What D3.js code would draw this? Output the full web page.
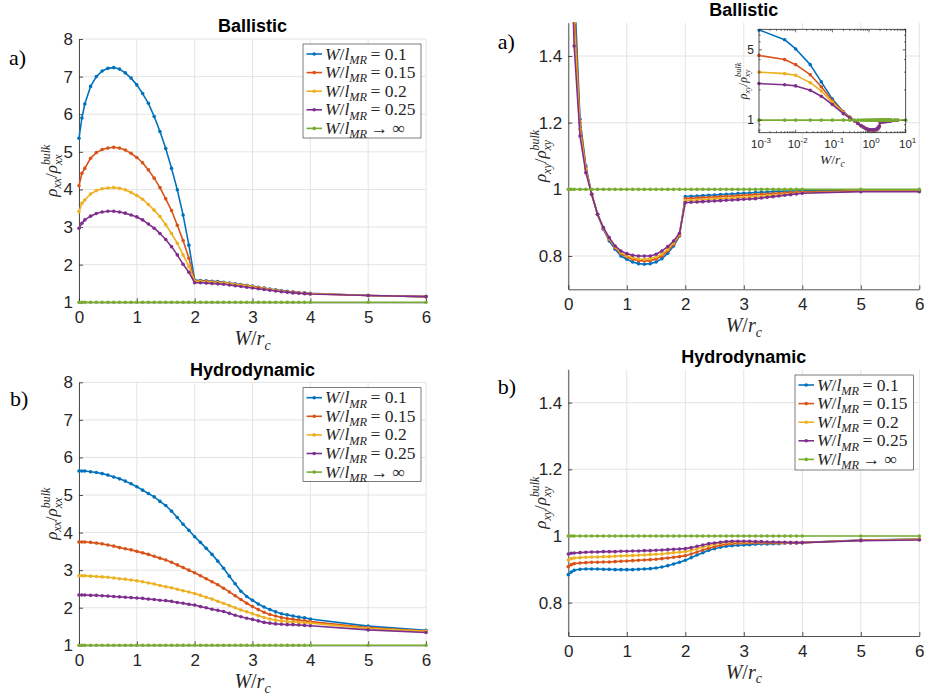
<!DOCTYPE html>
<html>
<head>
<meta charset="utf-8">
<script src="https://cdn.jsdelivr.net/npm/d3@7"></script>
<style>
  body { margin: 0; background: #fff; }
  svg { display: block; }
</style>
</head>
<body>
<svg id="fig" width="925" height="697"></svg>
<script>
// ---- data ----
const W = [0, 0.05, 0.1, 0.2, 0.3, 0.4, 0.5, 0.6, 0.7, 0.8, 0.9,
  1.0, 1.1, 1.2, 1.3, 1.4, 1.5, 1.6, 1.7, 1.8, 1.9,
  2.0, 2.1, 2.2, 2.3, 2.4, 2.5, 2.6, 2.7, 2.8, 2.9,
  3.0, 3.1, 3.2, 3.3, 3.4, 3.5, 3.6, 3.7, 3.8, 3.9,
  4.0, 5, 6];

// W/l_MR -> infinity : constant 1 in every panel
const infLimit = [1, 1, 1, 1, 1, 1, 1, 1, 1, 1, 1,
  1, 1, 1, 1, 1, 1, 1, 1, 1, 1,
  1, 1, 1, 1, 1, 1, 1, 1, 1, 1,
  1, 1, 1, 1, 1, 1, 1, 1, 1, 1,
  1, 1, 1];

// a) ballistic, rho_xx
const bxx01 = [5.36, 5.90, 6.27, 6.74, 7.00, 7.15, 7.22, 7.24, 7.20, 7.10, 6.96,
  6.78, 6.55, 6.29, 5.94, 5.54, 5.09, 4.56, 3.99, 3.32, 2.52,
  1.59, 1.58, 1.57, 1.56, 1.55, 1.53, 1.51, 1.49, 1.47, 1.45,
  1.43, 1.40, 1.38, 1.35, 1.33, 1.31, 1.29, 1.27, 1.26, 1.25,
  1.24, 1.18, 1.15];
const bxx015 = [4.10, 4.43, 4.56, 4.83, 4.98, 5.06, 5.10, 5.12, 5.10, 5.05, 4.96,
  4.85, 4.71, 4.52, 4.30, 4.05, 3.75, 3.44, 3.05, 2.64, 2.17,
  1.57, 1.565, 1.555, 1.545, 1.535, 1.52, 1.50, 1.48, 1.46, 1.44,
  1.42, 1.39, 1.37, 1.34, 1.32, 1.30, 1.28, 1.27, 1.25, 1.24,
  1.23, 1.18, 1.15];
const bxx02 = [3.41, 3.63, 3.72, 3.88, 3.97, 4.02, 4.04, 4.05, 4.03, 3.99, 3.92,
  3.84, 3.74, 3.60, 3.45, 3.28, 3.06, 2.83, 2.57, 2.26, 1.95,
  1.55, 1.55, 1.54, 1.53, 1.52, 1.51, 1.49, 1.47, 1.45, 1.43,
  1.41, 1.38, 1.36, 1.34, 1.32, 1.30, 1.28, 1.26, 1.25, 1.24,
  1.23, 1.18, 1.15];
const bxx025 = [2.97, 3.10, 3.19, 3.29, 3.36, 3.40, 3.42, 3.42, 3.40, 3.37, 3.32,
  3.27, 3.19, 3.08, 2.97, 2.83, 2.67, 2.48, 2.26, 2.01, 1.80,
  1.52, 1.52, 1.51, 1.50, 1.49, 1.48, 1.46, 1.44, 1.42, 1.40,
  1.38, 1.36, 1.34, 1.32, 1.30, 1.28, 1.27, 1.25, 1.24, 1.23,
  1.22, 1.18, 1.15];

// a) ballistic, rho_xy (diverges at W = 0)
const bxy01 = [null, 2.40, 1.62, 1.21, 1.07, 0.985, 0.925, 0.880, 0.845, 0.820, 0.800,
  0.790, 0.782, 0.777, 0.775, 0.777, 0.782, 0.792, 0.808, 0.830, 0.860,
  0.978, 0.979, 0.980, 0.981, 0.982, 0.983, 0.984, 0.985, 0.986, 0.987,
  0.988, 0.989, 0.990, 0.991, 0.992, 0.993, 0.994, 0.994, 0.995, 0.995,
  0.996, 0.997, 0.997];
const bxy015 = [null, 2.15, 1.56, 1.20, 1.065, 0.985, 0.925, 0.882, 0.850, 0.825, 0.807,
  0.797, 0.790, 0.786, 0.785, 0.786, 0.791, 0.800, 0.815, 0.835, 0.862,
  0.972, 0.973, 0.974, 0.975, 0.976, 0.977, 0.978, 0.979, 0.980, 0.981,
  0.982, 0.983, 0.984, 0.985, 0.986, 0.987, 0.988, 0.989, 0.990, 0.991,
  0.992, 0.996, 0.996];
const bxy02 = [null, 1.95, 1.50, 1.18, 1.06, 0.985, 0.925, 0.883, 0.852, 0.827, 0.810,
  0.801, 0.795, 0.791, 0.790, 0.792, 0.797, 0.806, 0.820, 0.840, 0.865,
  0.966, 0.967, 0.968, 0.969, 0.970, 0.971, 0.972, 0.973, 0.974, 0.975,
  0.976, 0.977, 0.978, 0.979, 0.981, 0.982, 0.983, 0.985, 0.986, 0.988,
  0.989, 0.995, 0.995];
const bxy025 = [null, 1.73, 1.43, 1.16, 1.05, 0.985, 0.925, 0.885, 0.855, 0.830, 0.815,
  0.807, 0.802, 0.800, 0.800, 0.800, 0.805, 0.815, 0.828, 0.845, 0.868,
  0.960, 0.961, 0.962, 0.963, 0.964, 0.965, 0.966, 0.967, 0.968, 0.969,
  0.970, 0.971, 0.972, 0.974, 0.976, 0.978, 0.980, 0.982, 0.984, 0.986,
  0.988, 0.993, 0.993];

// inset: small-W part of the ballistic rho_xy curves (log-log)
const insetW = [0.001, 0.005, 0.01, 0.025];
const insetXy01 = [7.9, 6.3, 5.1, 3.56];
const insetXy015 = [4.4, 4.0, 3.56, 2.83];
const insetXy02 = [3.0, 2.9, 2.79, 2.36];
const insetXy025 = [2.31, 2.25, 2.19, 1.98];
const insetXyInf = [1, 1, 1, 1];
const insetTailW = [10];
const insetTailInf = [1];

// b) hydrodynamic, rho_xx
const hxx01 = [5.64, 5.64, 5.64, 5.62, 5.60, 5.57, 5.53, 5.48, 5.43, 5.37, 5.30,
  5.22, 5.13, 5.04, 4.95, 4.83, 4.72, 4.57, 4.40, 4.22, 4.06,
  3.89, 3.74, 3.58, 3.42, 3.24, 3.05, 2.84, 2.64, 2.44, 2.30,
  2.20, 2.10, 2.02, 1.95, 1.89, 1.84, 1.81, 1.78, 1.75, 1.73,
  1.70, 1.51, 1.40];
const hxx015 = [3.75, 3.75, 3.75, 3.74, 3.72, 3.70, 3.67, 3.64, 3.60, 3.57, 3.54,
  3.50, 3.46, 3.42, 3.37, 3.32, 3.27, 3.21, 3.14, 3.07, 3.00,
  2.93, 2.85, 2.77, 2.69, 2.61, 2.52, 2.42, 2.32, 2.22, 2.12,
  2.03, 1.95, 1.88, 1.82, 1.78, 1.74, 1.71, 1.69, 1.67, 1.65,
  1.63, 1.47, 1.38];
const hxx02 = [2.85, 2.85, 2.85, 2.84, 2.83, 2.82, 2.81, 2.79, 2.77, 2.76, 2.74,
  2.72, 2.69, 2.66, 2.63, 2.59, 2.56, 2.53, 2.49, 2.45, 2.42,
  2.38, 2.33, 2.28, 2.23, 2.17, 2.12, 2.06, 2.00, 1.94, 1.89,
  1.84, 1.79, 1.74, 1.70, 1.67, 1.65, 1.63, 1.62, 1.61, 1.60,
  1.59, 1.45, 1.37];
const hxx025 = [2.34, 2.34, 2.34, 2.33, 2.33, 2.32, 2.31, 2.30, 2.29, 2.28, 2.27,
  2.26, 2.25, 2.23, 2.22, 2.20, 2.19, 2.17, 2.14, 2.12, 2.09,
  2.07, 2.03, 2.00, 1.96, 1.93, 1.90, 1.85, 1.80, 1.76, 1.72,
  1.69, 1.65, 1.61, 1.59, 1.57, 1.56, 1.55, 1.55, 1.54, 1.53,
  1.52, 1.41, 1.34];

// b) hydrodynamic, rho_xy
const hxy01 = [0.884, 0.892, 0.897, 0.900, 0.901, 0.901, 0.901, 0.900, 0.900, 0.899, 0.899,
  0.899, 0.899, 0.900, 0.901, 0.902, 0.904, 0.907, 0.911, 0.916, 0.921,
  0.927, 0.935, 0.943, 0.950, 0.957, 0.962, 0.966, 0.969, 0.971, 0.972,
  0.973, 0.974, 0.975, 0.976, 0.976, 0.977, 0.977, 0.978, 0.979, 0.979,
  0.980, 0.988, 0.991];
const hxy015 = [0.908, 0.914, 0.917, 0.919, 0.920, 0.921, 0.921, 0.922, 0.922, 0.923, 0.924,
  0.925, 0.926, 0.927, 0.928, 0.929, 0.930, 0.932, 0.934, 0.936, 0.938,
  0.941, 0.946, 0.952, 0.958, 0.963, 0.968, 0.972, 0.975, 0.977, 0.978,
  0.979, 0.979, 0.979, 0.979, 0.979, 0.979, 0.979, 0.979, 0.980, 0.980,
  0.980, 0.987, 0.990];
const hxy02 = [0.928, 0.932, 0.934, 0.935, 0.936, 0.937, 0.937, 0.938, 0.938, 0.939, 0.940,
  0.941, 0.941, 0.942, 0.943, 0.944, 0.945, 0.946, 0.948, 0.950, 0.951,
  0.953, 0.957, 0.962, 0.967, 0.971, 0.975, 0.978, 0.980, 0.981, 0.982,
  0.982, 0.982, 0.982, 0.981, 0.981, 0.981, 0.980, 0.980, 0.980, 0.980,
  0.980, 0.987, 0.990];
const hxy025 = [0.946, 0.948, 0.949, 0.950, 0.951, 0.952, 0.952, 0.953, 0.953, 0.953, 0.954,
  0.954, 0.955, 0.955, 0.956, 0.956, 0.957, 0.958, 0.959, 0.960, 0.961,
  0.962, 0.965, 0.969, 0.973, 0.977, 0.979, 0.981, 0.983, 0.984, 0.984,
  0.984, 0.984, 0.983, 0.983, 0.982, 0.982, 0.981, 0.981, 0.980, 0.980,
  0.980, 0.986, 0.988];

const xTicks = [0, 1, 2, 3, 4, 5, 6];
const xxTicks = [1, 2, 3, 4, 5, 6, 7, 8];
const xyTicks = [0.8, 1, 1.2, 1.4];
const legendValues = ["= 0.1", "= 0.15", "= 0.2", "= 0.25", "\u2192 \u221E"];
const colors = ["#0072BD", "#D95319", "#EDB120", "#7E2F8E", "#77AC30"];

// ---- styling ----
const ink = "#262626";
const gridColor = "#e4e4e4";
const sans = "'Liberation Sans', Arial, Helvetica, sans-serif";
const serif = "'Liberation Serif', 'DejaVu Serif', 'Times New Roman', serif";

const svg = d3.select("#fig");
const defs = svg.append("defs");

// lay out a run of text pieces (sub/superscripts) and return its width
function rich(sel, parts, fs, family) {
  const g = sel.append("g");
  let x = 0, held = 0;
  parts.forEach(p => {
    const t = g.append("text")
      .attr("x", x)
      .attr("y", (p.dy || 0) * fs)
      .attr("font-family", family || serif)
      .attr("font-size", fs * (p.s || 1))
      .attr("font-style", p.it ? "italic" : "normal")
      .attr("fill", ink)
      .text(p.t);
    const w = t.node().getComputedTextLength();
    if (p.hold) held = w;
    else { x += Math.max(w, held); held = 0; }
  });
  return { g, w: x };
}

function centered(parts, fs, cx, by, rotate, family) {
  const outer = svg.append("g")
    .attr("transform", `translate(${cx},${by})` + (rotate ? " rotate(-90)" : ""));
  const r = rich(outer, parts, fs, family);
  r.g.attr("transform", `translate(${-r.w / 2},0)`);
  return outer;
}

const xLabelParts = [{ t: "W", it: 1 }, { t: "/" }, { t: "r", it: 1 }, { t: "c", it: 1, s: 0.7, dy: 0.22 }];
function rhoParts(sub) {
  return [{ t: "\u03C1", it: 1 }, { t: sub, it: 1, s: 0.7, dy: 0.25 }, { t: "/" },
    { t: "\u03C1", it: 1 }, { t: "bulk", it: 1, s: 0.7, dy: -0.42, hold: 1 },
    { t: sub, it: 1, s: 0.7, dy: 0.3 }];
}
function legendParts(val) {
  return [{ t: "W", it: 1 }, { t: "/" }, { t: "l", it: 1 }, { t: "MR", it: 1, s: 0.7, dy: 0.25 },
    { t: "\u2009" + val }];
}

function drawSeries(g, xs, ys, x, y, color) {
  const pts = d3.zip(xs, ys);
  g.append("path")
    .datum(pts)
    .attr("fill", "none")
    .attr("stroke", color)
    .attr("stroke-width", 1.6)
    .attr("stroke-linejoin", "round")
    .attr("d", d3.line().defined(d => d[1] != null).x(d => x(d[0])).y(d => y(d[1])));
  g.append("g").selectAll("circle")
    .data(pts.filter(d => d[1] != null))
    .join("circle")
    .attr("cx", d => x(d[0]))
    .attr("cy", d => y(d[1]))
    .attr("r", 1.8)
    .attr("fill", color);
}

function drawLegend(lg) {
  const g = svg.append("g");
  g.append("rect")
    .attr("x", lg.x0).attr("y", lg.y0)
    .attr("width", lg.x1 - lg.x0).attr("height", lg.y1 - lg.y0)
    .attr("fill", "#fff").attr("stroke", ink).attr("stroke-width", 0.6);
  legendValues.forEach((val, i) => {
    const ry = lg.y0 + 10 + i * 18.6;
    g.append("line")
      .attr("x1", lg.x0 + 3.5).attr("x2", lg.x0 + 19)
      .attr("y1", ry).attr("y2", ry)
      .attr("stroke", colors[i]).attr("stroke-width", 1.6);
    g.append("circle").attr("cx", lg.x0 + 11.2).attr("cy", ry).attr("r", 1.8).attr("fill", colors[i]);
    const r = rich(g, legendParts(val), 17.5);
    r.g.attr("transform", `translate(${lg.x0 + 22},${ry + 5.5})`);
  });
}

function drawPanel(cfg, idx) {
  const x = d3.scaleLinear().domain([0, 6]).range([cfg.l, cfg.r]);
  const y = d3.scaleLinear().domain(cfg.yDom).range([cfg.b, cfg.t]);
  const g = svg.append("g");

  // grid
  g.append("g").selectAll("line").data(xTicks).join("line")
    .attr("x1", d => x(d)).attr("x2", d => x(d))
    .attr("y1", cfg.t).attr("y2", cfg.b)
    .attr("stroke", gridColor);
  g.append("g").selectAll("line").data(cfg.yTicks).join("line")
    .attr("x1", cfg.l).attr("x2", cfg.r)
    .attr("y1", d => y(d)).attr("y2", d => y(d))
    .attr("stroke", gridColor);

  // axes (MATLAB style: inward ticks, no box)
  const xa = g.append("g").attr("transform", `translate(0,${cfg.b})`)
    .call(d3.axisBottom(x).tickValues(xTicks).tickFormat(d3.format("d"))
      .tickSizeInner(-4).tickSizeOuter(0).tickPadding(9));
  const ya = g.append("g").attr("transform", `translate(${cfg.l},0)`)
    .call(d3.axisLeft(y).tickValues(cfg.yTicks).tickFormat(d3.format("~g"))
      .tickSizeInner(-4).tickSizeOuter(0).tickPadding(6));
  [xa, ya].forEach(a => {
    a.attr("font-family", sans).attr("font-size", 17);
    a.select(".domain").attr("stroke", ink).attr("stroke-width", 0.8);
    a.selectAll(".tick line").attr("stroke", ink).attr("stroke-width", 0.8);
    a.selectAll(".tick text").attr("fill", ink);
  });

  // data
  defs.append("clipPath").attr("id", "clip" + idx)
    .append("rect")
    .attr("x", cfg.l - 4).attr("y", cfg.t - 0.5)
    .attr("width", cfg.r - cfg.l + 8).attr("height", cfg.b - cfg.t + 4.5);
  const dg = g.append("g").attr("clip-path", `url(#clip${idx})`);
  cfg.series.forEach((ys, i) => drawSeries(dg, W, ys, x, y, colors[i]));

  // texts
  svg.append("text")
    .attr("x", (cfg.l + cfg.r) / 2).attr("y", cfg.titleY)
    .attr("text-anchor", "middle")
    .attr("font-family", sans).attr("font-weight", "bold").attr("font-size", 18)
    .attr("fill", "#000")
    .text(cfg.title);
  svg.append("text")
    .attr("x", cfg.tagX).attr("y", cfg.tagY)
    .attr("font-family", serif).attr("font-size", 22).attr("fill", "#000")
    .text(cfg.tag);
  centered(xLabelParts, 20, (cfg.l + cfg.r) / 2, cfg.b + 43, false);
  centered(rhoParts(cfg.sub), 17, cfg.l - 22, (cfg.t + cfg.b) / 2, true);

  if (cfg.legend) drawLegend(cfg.legend);
}

const panels = [
  { l: 79, r: 426, t: 39, b: 302.3, yDom: [1, 8], yTicks: xxTicks, sub: "xx",
    series: [bxx01, bxx015, bxx02, bxx025, infLimit],
    title: "Ballistic", titleY: 32.3, tag: "a)", tagX: 9, tagY: 65,
    legend: { x0: 303, y0: 44, x1: 421, y1: 138 } },
  { l: 568.3, r: 919.3, t: 22.7, b: 289.3, yDom: [0.7, 1.5], yTicks: xyTicks, sub: "xy",
    series: [bxy01, bxy015, bxy02, bxy025, infLimit],
    title: "Ballistic", titleY: 16, tag: "a)", tagX: 497.7, tagY: 48.5 },
  { l: 79, r: 426, t: 382.3, b: 645.3, yDom: [1, 8], yTicks: xxTicks, sub: "xx",
    series: [hxx01, hxx015, hxx02, hxx025, infLimit],
    title: "Hydrodynamic", titleY: 376, tag: "b)", tagX: 10, tagY: 405.7,
    legend: { x0: 303, y0: 387.7, x1: 421, y1: 481.3 } },
  { l: 568.3, r: 919.3, t: 369.3, b: 636, yDom: [0.7, 1.5], yTicks: xyTicks, sub: "xy",
    series: [hxy01, hxy015, hxy02, hxy025, infLimit],
    title: "Hydrodynamic", titleY: 362.7, tag: "b)", tagX: 497.7, tagY: 394,
    legend: { x0: 795, y0: 375, x1: 913.3, y1: 470 } }
];
panels.forEach((p, i) => drawPanel(p, i));

// ---- inset in the ballistic rho_xy panel (log-log) ----
(function drawInset() {
  const box = { l: 759, r: 905.7, t: 29.3, b: 132.7 };
  const x = d3.scaleLog().domain([1e-3, 10]).range([box.l, box.r]);
  const y = d3.scaleLog().domain([0.75, 8]).range([box.b, box.t]);
  const g = svg.append("g");
  g.append("rect")
    .attr("x", box.l).attr("y", box.t)
    .attr("width", box.r - box.l).attr("height", box.b - box.t)
    .attr("fill", "#fff");

  defs.append("clipPath").attr("id", "clipInset")
    .append("rect")
    .attr("x", box.l - 3).attr("y", box.t)
    .attr("width", box.r - box.l + 6).attr("height", box.b - box.t);
  const dg = g.append("g").attr("clip-path", "url(#clipInset)");
  const tailW = W.slice(1);
  const insetSeries = [
    [insetXy01, bxy01], [insetXy015, bxy015], [insetXy02, bxy02], [insetXy025, bxy025]
  ];
  insetSeries.forEach(([head, main], i) =>
    drawSeries(dg, insetW.concat(tailW), head.concat(main.slice(1)), x, y, colors[i]));
  drawSeries(dg, insetW.concat(tailW, insetTailW), insetXyInf.concat(infLimit.slice(1), insetTailInf),
    x, y, colors[4]);

  // frame and ticks on all four sides
  g.append("rect")
    .attr("x", box.l).attr("y", box.t)
    .attr("width", box.r - box.l).attr("height", box.b - box.t)
    .attr("fill", "none").attr("stroke", ink).attr("stroke-width", 0.8);
  const xMajor = [1e-3, 1e-2, 1e-1, 1, 10];
  const xMinor = [];
  [1e-3, 1e-2, 1e-1, 1].forEach(d => [2, 3, 4, 5, 6, 7, 8, 9].forEach(k => xMinor.push(k * d)));
  const yMajor = [1, 5];
  const yMinor = [0.8, 0.9, 2, 3, 4, 6, 7, 8];
  const tk = g.append("g").attr("stroke", ink).attr("stroke-width", 0.7);
  const xt = (vals, len) => vals.forEach(v => {
    tk.append("line").attr("x1", x(v)).attr("x2", x(v)).attr("y1", box.b).attr("y2", box.b - len);
    tk.append("line").attr("x1", x(v)).attr("x2", x(v)).attr("y1", box.t).attr("y2", box.t + len);
  });
  const yt = (vals, len) => vals.forEach(v => {
    tk.append("line").attr("x1", box.l).attr("x2", box.l + len).attr("y1", y(v)).attr("y2", y(v));
    tk.append("line").attr("x1", box.r).attr("x2", box.r - len).attr("y1", y(v)).attr("y2", y(v));
  });
  xt(xMajor, 3); xt(xMinor, 1.6); yt(yMajor, 3); yt(yMinor, 1.6);

  xMajor.forEach(v => {
    centered([{ t: "10" }, { t: String(Math.round(Math.log10(v))), s: 0.7, dy: -0.45 }],
      11.5, x(v) + 2, box.b + 15.5, false, sans);
  });
  yMajor.forEach(v => {
    g.append("text")
      .attr("x", box.l - 5).attr("y", y(v)).attr("dy", "0.35em")
      .attr("text-anchor", "end")
      .attr("font-family", sans).attr("font-size", 12).attr("fill", ink)
      .text(v);
  });
  centered(xLabelParts, 13.5, (box.l + box.r) / 2, box.b + 31, false);
  centered(rhoParts("xy"), 12, box.l - 12.5, (box.t + box.b) / 2, true);
})();
</script>
</body>
</html>
